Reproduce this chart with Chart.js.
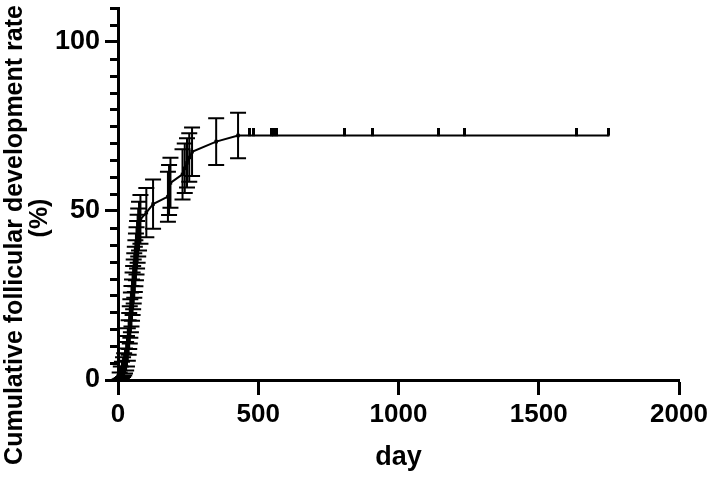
<!DOCTYPE html>
<html><head><meta charset="utf-8">
<script src="https://cdn.jsdelivr.net/npm/chart.js@4/dist/chart.umd.min.js"></script>
<style>html,body{margin:0;padding:0;background:#fff}#wrap{width:709px;height:477px}</style>
</head><body><div id="wrap"><canvas id="c" width="709" height="477"></canvas></div>
<script>
// ---- data ----
const eventDays   = [0, 6, 10, 14, 18, 22, 25, 29, 32, 35, 38, 40, 42, 44, 46, 48, 50, 52, 54, 56, 58, 60, 62, 64, 66, 68, 70, 72, 75, 80, 101, 125, 178, 182, 187, 230, 238, 246, 254, 264, 350, 428];
const eventRates  = [0, 1.2, 2.2, 3.0, 3.8, 4.6, 5.6, 7.0, 8.5, 10.5, 12.6, 14.5, 16.3, 18.2, 20.0, 21.8, 23.6, 25.5, 27.3, 29.1, 30.9, 32.7, 34.5, 36.4, 38.2, 40.0, 41.8, 43.6, 45.5, 47.5, 49.5, 52.0, 54.2, 56.2, 58.3, 60.8, 62.6, 64.2, 65.8, 67.5, 70.5, 72.3];
const eventErrors = [0, 1.0, 1.8, 2.4, 2.9, 3.3, 3.7, 4.2, 4.5, 4.8, 5.1, 5.3, 5.5, 5.7, 5.9, 6.0, 6.1, 6.3, 6.4, 6.5, 6.6, 6.7, 6.8, 6.9, 7.0, 7.0, 7.1, 7.1, 7.2, 7.2, 7.3, 7.3, 7.4, 7.4, 7.4, 7.4, 7.3, 7.3, 7.2, 7.2, 6.9, 6.7];
const censorDays  = [469, 484, 549, 556, 564, 806, 906, 1144, 1237, 1636, 1750];
const censorRates = [72.3, 72.3, 72.3, 72.3, 72.3, 72.3, 72.3, 72.3, 72.3, 72.3, 72.3];
const xTickValues = [0, 500, 1000, 1500, 2000];
const yTickValues = [0, 50, 100];
const yMinorTickValues = [5, 10, 15, 20, 25, 30, 35, 40, 45, 55, 60, 65, 70, 75, 80, 85, 90, 95, 105, 110];
const xTitle = 'day';
const yTitleLines = ['Cumulative follicular development rate', '(%)'];

// ---- build ----
const linePoints = eventDays.map((d, i) => ({x: d, y: eventRates[i]}))
  .concat(censorDays.map((d, i) => ({x: d, y: censorRates[i]})))
  .sort((a, b) => a.x - b.x);
const eventPoints = eventDays.map((d, i) => ({x: d, y: eventRates[i]}));
const censorPoints = censorDays.map((d, i) => ({x: d, y: censorRates[i]}));

const FONT = "'Liberation Sans', Arial, sans-serif";

// censor tick glyph: upward tick from the line
const censorImg = document.createElement('canvas');
censorImg.width = 3; censorImg.height = 14;
(function(){ const g = censorImg.getContext('2d'); g.fillStyle = '#000'; g.fillRect(0, 0, 3, 7.5); })();

const errorBarPlugin = {
  id: 'errbars',
  afterDatasetsDraw(chart) {
    const {ctx, scales: {x, y}} = chart;
    ctx.save();
    ctx.strokeStyle = '#000';
    ctx.lineWidth = 2;
    eventDays.forEach((d, i) => {
      const e = eventErrors[i];
      if (!e) return;
      const px = x.getPixelForValue(d);
      const top = y.getPixelForValue(eventRates[i] + e);
      const bot = y.getPixelForValue(eventRates[i] - e);
      ctx.beginPath();
      ctx.moveTo(px, top); ctx.lineTo(px, bot);
      ctx.moveTo(px - 8, top); ctx.lineTo(px + 8, top);
      ctx.moveTo(px - 8, bot); ctx.lineTo(px + 8, bot);
      ctx.stroke();
    });
    ctx.restore();
  }
};

const axisExtrasPlugin = {
  id: 'axisExtras',
  afterDraw(chart) {
    const {ctx, chartArea, scales: {y}} = chart;
    ctx.save();
    ctx.strokeStyle = '#000';
    ctx.lineWidth = 3;
    yMinorTickValues.forEach(v => {
      const py = Math.round(y.getPixelForValue(v)) + 0.5;
      ctx.beginPath();
      ctx.moveTo(chartArea.left - 8, py);
      ctx.lineTo(chartArea.left, py);
      ctx.stroke();
    });
    // axis titles
    ctx.fillStyle = '#000';
    ctx.font = 'bold 27px ' + FONT;
    ctx.textAlign = 'center';
    ctx.textBaseline = 'alphabetic';
    ctx.fillText(xTitle, (chartArea.left + chartArea.right) / 2, 465);
    ctx.font = 'bold 25px ' + FONT;
    ctx.save(); ctx.translate(22, 235); ctx.rotate(-Math.PI / 2); ctx.fillText(yTitleLines[0], 0, 0); ctx.restore();
    ctx.save(); ctx.translate(47, 218); ctx.rotate(-Math.PI / 2); ctx.fillText(yTitleLines[1], 0, 0); ctx.restore();
    ctx.restore();
  }
};

new Chart(document.getElementById('c'), {
  type: 'scatter',
  data: {
    datasets: [
      {
        data: linePoints, showLine: true, borderColor: '#000', borderWidth: 2,
        pointRadius: 0, tension: 0, order: 3
      },
      {
        data: eventPoints, showLine: false, pointStyle: 'rect', pointRadius: 2.5,
        backgroundColor: '#000', borderColor: '#000', borderWidth: 0, order: 2
      },
      {
        data: censorPoints, showLine: false, pointStyle: censorImg, pointRadius: 7,
        order: 1
      }
    ]
  },
  options: {
    responsive: false, animation: false, devicePixelRatio: 1,
    layout: {padding: {top: 8, right: 30, bottom: 0, left: 0}},
    plugins: {legend: {display: false}, tooltip: {enabled: false}},
    scales: {
      x: {
        type: 'linear', min: 0, max: 2000,
        afterBuildTicks: s => { s.ticks = xTickValues.map(v => ({value: v})); },
        afterFit: s => { s.height = 97; s.paddingLeft = 0; s.paddingRight = 0; },
        grid: {drawOnChartArea: false, drawTicks: true, tickLength: 15, tickWidth: 3, tickColor: '#000'},
        border: {display: true, width: 3, color: '#000'},
        ticks: {color: '#000', padding: 4, maxRotation: 0, callback: v => String(v),
                font: {family: FONT, size: 26, weight: 'bold'}}
      },
      y: {
        type: 'linear', min: 0, max: 110,
        afterBuildTicks: s => { s.ticks = yTickValues.map(v => ({value: v})); },
        afterFit: s => { s.width = 118; s.paddingTop = 0; s.paddingBottom = 0; },
        grid: {drawOnChartArea: false, drawTicks: true, tickLength: 13, tickWidth: 3, tickColor: '#000'},
        border: {display: true, width: 3, color: '#000'},
        ticks: {color: '#000', padding: 5, callback: v => String(v),
                font: {family: FONT, size: 27, weight: 'bold'}}
      }
    }
  },
  plugins: [errorBarPlugin, axisExtrasPlugin]
});
</script></body></html>
